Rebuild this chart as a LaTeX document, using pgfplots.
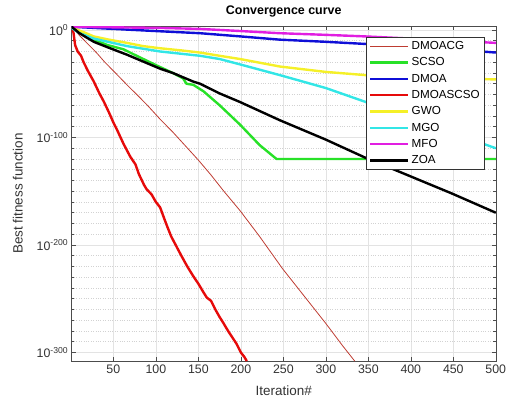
\documentclass[border=0pt]{standalone}
\usepackage{fontspec}
\setmainfont{Liberation Sans}
\usepackage{pgfplots}
\pgfplotsset{compat=1.18}

\definecolor{cDMOACG}{RGB}{190,60,50}
\definecolor{cSCSO}{RGB}{40,225,40}
\definecolor{cDMOA}{RGB}{15,15,215}
\definecolor{cDMOASCSO}{RGB}{230,10,10}
\definecolor{cGWO}{RGB}{245,240,40}
\definecolor{cMGO}{RGB}{50,230,230}
\definecolor{cMFO}{RGB}{225,30,225}

\begin{document}
\begin{tikzpicture}
\begin{axis}[
    scale only axis, width=424bp, height=335bp,
    ymode=log,
    xmin=1, xmax=500, ymin=1e-308, ymax=5e3,
    xtick={50,100,...,500},
    ytick={1e-300,1e-200,1e-100,1},
    yticklabels={10\textsuperscript{-300},10\textsuperscript{-200},10\textsuperscript{-100},10\textsuperscript{0}},
    minor ytick={1e-10,1e-20,1e-30,1e-40,1e-50,1e-60,1e-70,1e-80,1e-90,
                 1e-110,1e-120,1e-130,1e-140,1e-150,1e-160,1e-170,1e-180,1e-190,
                 1e-210,1e-220,1e-230,1e-240,1e-250,1e-260,1e-270,1e-280,1e-290},
    /pgf/number format/assume math mode=true,
    grid=both,
    major grid style={gray!22, line width=0.6bp},
    minor grid style={gray!35, dotted, line width=0.6bp},
    tick align=inside,
    major tick length=4bp, minor tick length=2.5bp,
    axis line style={black!70, line width=0.6bp},
    every tick/.style={black!70, line width=0.6bp},
    tick label style={font=\fontsize{12.4}{14}\selectfont, text=black!80},
    title={Convergence curve},
    every axis title shift=0pt,
    title style={font=\bfseries\fontsize{12.5}{14}\selectfont, at={(axis description cs:0.5,1.042)}, anchor=center},
    xlabel={Iteration\#},
    ylabel={Best fitness function},
    label style={font=\fontsize{13.5}{15}\selectfont, text=black!80},
    xlabel style={at={(axis description cs:0.5,-0.087)}, anchor=center},
    ylabel style={at={(axis description cs:-0.127,0.5)}, anchor=center},
    legend style={at={(0.9745,0.967)}, anchor=north east, draw=black!80, line width=0.6bp,
        fill=white, font=\fontsize{11.7}{13}\selectfont, row sep=2.7bp},
    legend cell align=left,
    legend image code/.code={\draw[#1] (0bp,0bp) -- (38bp,0bp);},
    every axis plot/.append style={line width=2.4bp, line join=round},
]
% DMOACG
\addplot[cDMOACG, line width=0.8bp] coordinates {
(1,1e3) (10,1e-5) (20,1e-13) (30,1e-21) (40,1e-30) (50,1e-38) (66,1e-51) (80,1e-62)
(90,1e-70) (105,1e-83) (120,1e-95) (135,1e-108) (150,1e-121) (165,1e-135) (180,1e-150)
(199,1e-168) (222,1e-192) (249,1e-222) (275,1e-248) (300,1e-273) (320,1e-294) (334,1e-308)};
% SCSO
\addplot[cSCSO] coordinates {
(1,1e3) (27,1e-9) (43,1e-14) (62,1e-18) (80,1e-25) (101,1e-33) (120,1e-40) (132,1e-45)
(136,1e-50) (144,1e-51) (156,1e-57) (175,1e-70) (199,1e-88) (222,1e-107) (242,1e-120) (500,1e-120)};
% DMOA
\addplot[cDMOA] coordinates {
(1,1e3) (50,1e1) (100,1e-1) (152,1e-3) (200,1e-6) (246,1e-9) (300,1e-11) (347,1e-13)
(400,1e-16) (450,1e-18) (500,1e-21)};
% DMOASCSO
\addplot[cDMOASCSO] coordinates {
(1,1) (3,1e-2) (5,1e-14) (8,1e-20) (12,1e-24) (15,1e-30) (20,1e-38) (27,1e-48) (33,1e-58)
(39,1e-67) (45,1e-77) (50,1e-86) (55,1e-94) (62,1e-106) (70,1e-118) (76,1e-125) (80,1e-134)
(86,1e-144) (89,1e-148) (95,1e-153) (100,1e-160) (105,1e-165) (112,1e-180) (118,1e-192)
(124,1e-201) (130,1e-210) (137,1e-220) (144,1e-229) (150,1e-236) (156,1e-244) (160,1e-249)
(165,1e-252) (170,1e-260) (175,1e-267) (179,1e-272) (185,1e-280) (190,1e-286) (195,1e-292)
(200,1e-300) (204,1e-304) (207,1e-308)};
% GWO
\addplot[cGWO] coordinates {
(1,1e2) (15,1e-2) (27,1e-6) (45,1e-9) (66,1e-12) (85,1e-15) (105,1e-17) (130,1e-19)
(152,1e-21) (175,1e-24) (199,1e-27) (246,1e-34) (300,1e-39) (347,1e-42) (400,1e-44)
(450,1e-45) (500,1e-46)};
% MGO
\addplot[cMGO] coordinates {
(1,1e2) (10,1e-3) (27,1e-8) (66,1e-15) (105,1e-20) (152,1e-24) (175,1e-27) (199,1e-32)
(246,1e-42) (300,1e-54) (347,1e-67) (400,1e-82) (450,1e-96) (500,1e-110)};
% MFO
\addplot[cMFO] coordinates {
(1,1e3) (50,3e2) (100,1e2) (152,1e1) (200,1e-1) (246,1e-3) (300,3e-5) (347,1e-6)
(400,1e-8) (450,1e-10) (500,1e-12)};
% ZOA
\addplot[black] coordinates {
(1,1e3) (10,1e-3) (27,1e-11) (43,1e-16) (66,1e-23) (105,1e-36) (120,1e-40) (144,1e-48)
(152,1e-50) (175,1e-59) (199,1e-67) (246,1e-84) (300,1e-102) (347,1e-119) (390,1e-133)
(448,1e-152) (500,1e-170)};
\legend{DMOACG,SCSO,DMOA,DMOASCSO,GWO,MGO,MFO,ZOA}
\end{axis}
\pgfresetboundingbox
\path[use as bounding box] ([shift={(-71.7bp,-43bp)}]current axis.south west)
    rectangle ([shift={(11.2bp,26bp)}]current axis.north east);
\end{tikzpicture}
\end{document}
